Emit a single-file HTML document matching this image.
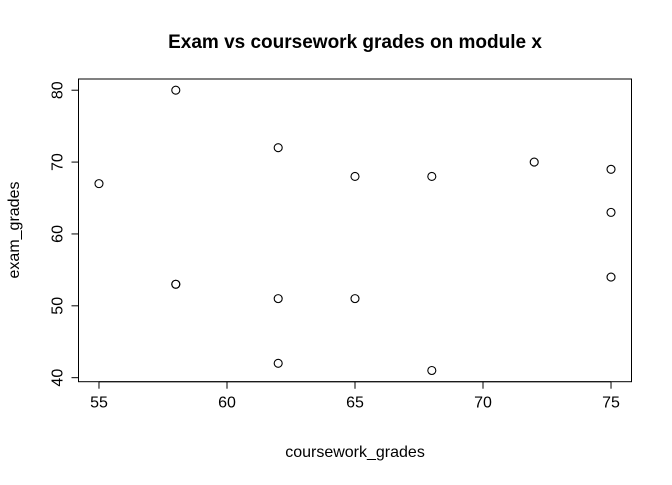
<!DOCTYPE html>
<html><head><meta charset="utf-8"><style>
body{margin:0;background:#fff}
text{font-family:"Liberation Sans",Arial,sans-serif}
</style></head><body>
<svg id="c" width="672" height="480" xmlns="http://www.w3.org/2000/svg">
<text x="355" y="48" text-anchor="middle" font-size="19" font-weight="bold">Exam vs coursework grades on module x</text>
<text x="355" y="457" text-anchor="middle" font-size="16">coursework_grades</text>
<text transform="translate(19,230) rotate(-90)" text-anchor="middle" font-size="16">exam_grades</text>
<rect x="78.5" y="79" width="553" height="302.7" fill="none" stroke="#000" stroke-width="1"/>
<g id="g"></g>
</svg>
<script>
const coursework = [55,58,58,58,62,62,62,65,65,68,68,72,75,75,75];
const exam = [67,80,53,53,72,51,42,68,51,68,41,70,69,63,54];
const xTicks = [55,60,65,70,75];
const yTicks = [40,50,60,70,80];
const L=78.5,R=631.5,T=79,B=381.7;
const dxmin=Math.min(...coursework),dxmax=Math.max(...coursework);
const dymin=Math.min(...exam),dymax=Math.max(...exam);
const xmin=dxmin-0.04*(dxmax-dxmin),xmax=dxmax+0.04*(dxmax-dxmin);
const ymin=dymin-0.04*(dymax-dymin),ymax=dymax+0.04*(dymax-dymin);
const sx=v=>L+(v-xmin)/(xmax-xmin)*(R-L);
const sy=v=>B-(v-ymin)/(ymax-ymin)*(B-T);
const g=document.getElementById('g');
const NS='http://www.w3.org/2000/svg';
function mk(t,a){const e=document.createElementNS(NS,t);for(const k in a)e.setAttribute(k,a[k]);g.appendChild(e);return e;}
mk('line',{x1:sx(xTicks[0]),x2:sx(xTicks[xTicks.length-1]),y1:B,y2:B,stroke:'#000'});
xTicks.forEach(v=>{
  const l=mk('line',{x1:sx(v),x2:sx(v),y1:B,y2:B+7,stroke:'#000'});
  
  
  const t=mk('text',{x:sx(v),y:B+26,'text-anchor':'middle','font-size':16});
  t.textContent=v;
  
  
});
mk('line',{x1:L,x2:L,y1:sy(yTicks[0]),y2:sy(yTicks[yTicks.length-1]),stroke:'#000'});
yTicks.forEach(v=>{
  const l=mk('line',{x1:L-7,x2:L,y1:sy(v),y2:sy(v),stroke:'#000'});
  
  
  const t=mk('text',{transform:`translate(${L-16},${sy(v)}) rotate(-90)`,'text-anchor':'middle','font-size':16});
  t.textContent=v;
  
  
});
coursework.forEach((v,i)=>{
  const c=mk('circle',{cx:sx(v),cy:sy(exam[i]),r:4,fill:'none',stroke:'#000','stroke-width':1.1});
  
  
});
</script>
</body></html>
